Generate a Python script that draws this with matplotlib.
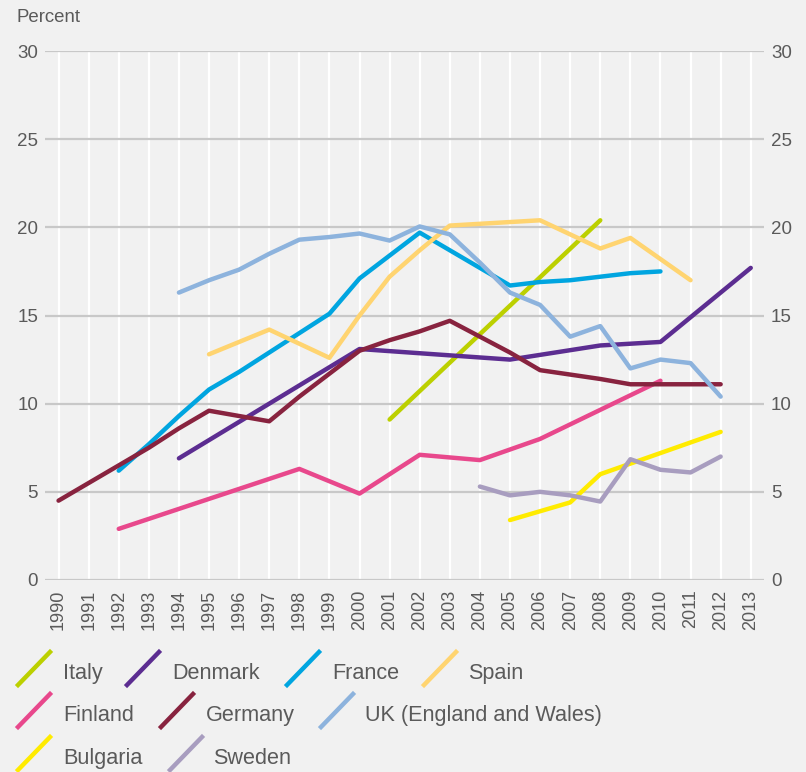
import matplotlib
matplotlib.use("Agg")
import matplotlib.pyplot as plt
from matplotlib.lines import Line2D

plt.rcParams['font.family'] = ['Liberation Sans', 'DejaVu Sans']

# data (percent)
italy_years = [2001, 2008]
italy = [9.1, 20.4]

denmark_years = [1994, 2000, 2005, 2008, 2010, 2013]
denmark = [6.9, 13.1, 12.5, 13.3, 13.5, 17.7]

france_years = [1992, 1993, 1994, 1995, 1996, 1997, 1998, 1999, 2000, 2001, 2002,
                2003, 2004, 2005, 2006, 2007, 2008, 2009, 2010]
france = [6.2, 7.7, 9.3, 10.8, 11.8, 12.9, 14.0, 15.1, 17.1, 18.4, 19.7,
          18.7, 17.7, 16.7, 16.9, 17.0, 17.2, 17.4, 17.5]

spain_years = [1995, 1996, 1997, 1998, 1999, 2000, 2001, 2002, 2003, 2004, 2005,
               2006, 2007, 2008, 2009, 2010, 2011]
spain = [12.8, 13.5, 14.2, 13.4, 12.6, 15.0, 17.2, 18.7, 20.1, 20.2, 20.3,
         20.4, 19.6, 18.8, 19.4, 18.2, 17.0]

finland_years = [1992, 1998, 2000, 2002, 2004, 2006, 2010]
finland = [2.9, 6.3, 4.9, 7.1, 6.8, 8.0, 11.3]

germany_years = list(range(1990, 2013))
germany = [4.5, 5.5, 6.5, 7.5, 8.6, 9.6, 9.3, 9.0, 10.4, 11.7, 13.0, 13.6, 14.1,
           14.7, 13.8, 12.9, 11.9, 11.65, 11.4, 11.1, 11.1, 11.1, 11.1]

uk_years = list(range(1994, 2013))
uk = [16.3, 17.0, 17.6, 18.5, 19.3, 19.45, 19.65, 19.25, 20.05, 19.6, 18.0,
      16.3, 15.6, 13.8, 14.4, 12.0, 12.5, 12.3, 10.4]

bulgaria_years = [2005, 2006, 2007, 2008, 2009, 2010, 2011, 2012]
bulgaria = [3.4, 3.9, 4.4, 6.0, 6.6, 7.2, 7.8, 8.4]

sweden_years = list(range(2004, 2013))
sweden = [5.3, 4.8, 5.0, 4.8, 4.45, 6.85, 6.25, 6.1, 7.0]

tick_years = list(range(1990, 2014))
y_ticks = [0, 5, 10, 15, 20, 25, 30]

series = [
    ("Italy", italy_years, italy, "#BCD000"),
    ("Denmark", denmark_years, denmark, "#5C2D91"),
    ("France", france_years, france, "#00A5E0"),
    ("Spain", spain_years, spain, "#FFD470"),
    ("Finland", finland_years, finland, "#E8488C"),
    ("Germany", germany_years, germany, "#88233F"),
    ("UK (England and Wales)", uk_years, uk, "#8DB3DD"),
    ("Bulgaria", bulgaria_years, bulgaria, "#FFEB00"),
    ("Sweden", sweden_years, sweden, "#A89DBF"),
]

BG = "#F1F1F1"
TXT = "#5A5A5A"
W, H = 806, 772

fig = plt.figure(figsize=(W / 100, H / 100), dpi=100, facecolor=BG)
ax = fig.add_axes([45 / W, (H - 580) / H, 719 / W, 529 / H], facecolor=BG)

ax.set_xlim(1989.55, 2013.44)
ax.set_ylim(0, 30)

for yr in tick_years:
    ax.axvline(yr, color="white", lw=1.6, zorder=1)
for v in y_ticks:
    ax.axhline(v, color="#C8C8C8", lw=1.6, zorder=2)

for name, xs, ys, col in series:
    ax.plot(xs, ys, color=col, lw=3.2, solid_capstyle="round",
            solid_joinstyle="round", zorder=3)

for s in ax.spines.values():
    s.set_visible(False)

ax.set_xticks(tick_years)
ax.set_xticklabels([str(y) for y in tick_years], rotation=90)
ax.set_yticks(y_ticks)
ax.tick_params(axis="x", length=0, pad=7, labelsize=13, colors=TXT)
ax.tick_params(axis="y", length=0, pad=5, labelsize=13.5, colors=TXT,
               labelleft=True, labelright=True)

fig.text(17 / W, 1 - 21.7 / H, "Percent", fontsize=13.4, color=TXT,
         ha="left", va="baseline")

# legend drawn by hand: diagonal strokes with labels, three rows
legend_rows = [
    [(0, 18, 63), (1, 127, 172), (2, 287, 332), (3, 424, 468)],
    [(4, 18, 63), (5, 161, 206), (6, 321, 365)],
    [(7, 18, 63), (8, 170, 213)],
]
row_top = [652, 694, 737]
row_base = [679, 721, 764]
for r, items in enumerate(legend_rows):
    for idx, hx, tx in items:
        name, _, _, col = series[idx]
        y0 = 1 - (row_top[r] + 33) / H
        y1 = 1 - row_top[r] / H
        fig.add_artist(Line2D([hx / W, (hx + 32) / W], [y0, y1],
                              transform=fig.transFigure, color=col, lw=3.2))
        fig.text(tx / W, 1 - row_base[r] / H, name, fontsize=15.6, color=TXT,
                 ha="left", va="baseline")

fig.savefig("out.png", dpi=100, facecolor=BG)
